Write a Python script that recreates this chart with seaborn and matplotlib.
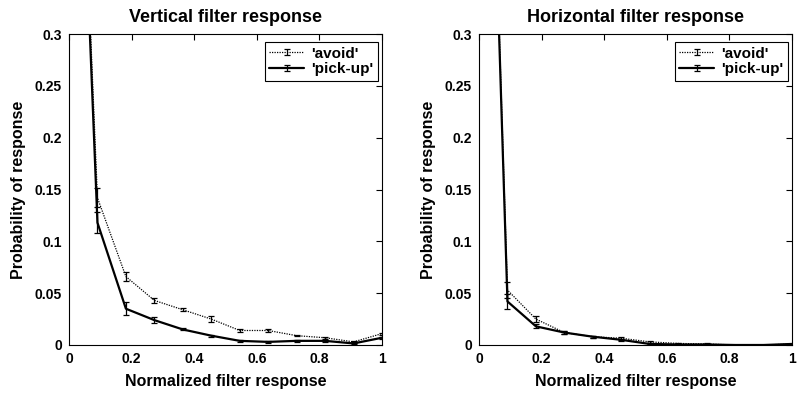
import numpy as np
import pandas as pd
import matplotlib
matplotlib.use("Agg")
import matplotlib.pyplot as plt
import seaborn as sns
from matplotlib.legend_handler import HandlerErrorbar
from matplotlib.container import ErrorbarContainer

# ---- data ----
x_vals = [0.0, 1/11, 2/11, 3/11, 4/11, 5/11, 6/11, 7/11, 8/11, 9/11, 10/11, 1.0]

vert_avoid = [0.80, 0.142, 0.066, 0.043, 0.034, 0.025, 0.014, 0.014, 0.009, 0.007, 0.003, 0.011]
vert_avoid_err = [0.0, 0.009, 0.004, 0.0025, 0.0015, 0.003, 0.001, 0.001, 0.0008, 0.0008, 0.001, 0.001]
vert_pick = [0.80, 0.118, 0.035, 0.024, 0.015, 0.009, 0.004, 0.003, 0.004, 0.004, 0.0015, 0.007]
vert_pick_err = [0.0, 0.010, 0.006, 0.003, 0.001, 0.001, 0.0008, 0.0008, 0.0008, 0.0008, 0.001, 0.001]

horz_avoid = [0.92, 0.053, 0.025, 0.012, 0.008, 0.0065, 0.003, 0.0015, 0.001, 0.0, 0.0, 0.001]
horz_avoid_err = [0.0, 0.008, 0.003, 0.0015, 0.001, 0.0015, 0.001, 0.0005, 0.0005, 0.0003, 0.0003, 0.0003]
horz_pick = [0.92, 0.042, 0.018, 0.012, 0.008, 0.005, 0.001, 0.0005, 0.0005, 0.0, 0.0, 0.001]
horz_pick_err = [0.0, 0.007, 0.002, 0.0015, 0.001, 0.001, 0.0005, 0.0003, 0.0003, 0.0003, 0.0003, 0.0003]

titles = ["Vertical filter response", "Horizontal filter response"]
series_names = ["'avoid'", "'pick-up'"]
xlabel = "Normalized filter response"
ylabel = "Probability of response"
xticks = [0, 0.2, 0.4, 0.6, 0.8, 1.0]
xticklabels = ["0", "0.2", "0.4", "0.6", "0.8", "1"]
yticks = [0, 0.05, 0.1, 0.15, 0.2, 0.25, 0.3]
yticklabels = ["0", "0.05", "0.1", "0.15", "0.2", "0.25", "0.3"]

sns.set_style("white")
plt.rcParams['font.family'] = ['Liberation Sans', 'DejaVu Sans']
plt.rcParams['text.color'] = 'black'
plt.rcParams['axes.labelcolor'] = 'black'
plt.rcParams['xtick.color'] = 'black'
plt.rcParams['ytick.color'] = 'black'

fig = plt.figure(figsize=(8, 4), dpi=100)
positions = [[0.08625, 0.1375, 0.39125, 0.7775], [0.59875, 0.1375, 0.39125, 0.7775]]

panels = [
    (vert_avoid, vert_avoid_err, vert_pick, vert_pick_err),
    (horz_avoid, horz_avoid_err, horz_pick, horz_pick_err),
]

styles = [dict(ls=(0, (1, 1)), lw=0.9), dict(ls='-', lw=1.6)]

for i, (pos, data) in enumerate(zip(positions, panels)):
    ax = fig.add_axes(pos)
    a, ae, p, pe = data
    handles = []
    for (vals, errs), st, name in zip([(a, ae), (p, pe)], styles, series_names):
        df = pd.DataFrame({"x": x_vals, "y": vals})
        sns.lineplot(data=df, x="x", y="y", ax=ax, color="black",
                     linestyle=st['ls'], linewidth=st['lw'], legend=False)
        ax.errorbar(x_vals[1:], vals[1:], yerr=errs[1:], fmt='none',
                    ecolor="black", elinewidth=0.9, capsize=2.5, capthick=0.9)
        # legend proxy (not drawn: NaN data)
        proxy = ax.errorbar([np.nan], [np.nan], yerr=[np.nan], color='black',
                            linestyle=st['ls'], linewidth=st['lw'],
                            elinewidth=0.9, capsize=2, capthick=0.9)
        handles.append(proxy)
    ax.set_xlim(0, 1)
    ax.set_ylim(0, 0.3)
    ax.set_xticks(xticks)
    ax.set_xticklabels(xticklabels)
    ax.set_yticks(yticks)
    ax.set_yticklabels(yticklabels)
    ax.tick_params(direction='in', length=4, width=0.8, top=True, right=True,
                   labelsize=10, colors='black', pad=5)
    for lab in ax.get_xticklabels() + ax.get_yticklabels():
        lab.set_fontweight('bold')
    for sp in ax.spines.values():
        sp.set_color('black')
        sp.set_linewidth(0.8)
    ax.set_title(titles[i], fontsize=13, fontweight='bold', pad=9, color='black')
    ax.set_xlabel(xlabel, fontsize=11.5, fontweight='bold', labelpad=6)
    ax.set_ylabel(ylabel, fontsize=11.5, fontweight='bold', labelpad=6)
    leg = ax.legend(handles, series_names, loc='upper right',
                    bbox_to_anchor=(1 - 4/313, 1 - 8/311),
                    handler_map={ErrorbarContainer: HandlerErrorbar(yerr_size=0.2, numpoints=1)},
                    handlelength=2.3, fancybox=False, framealpha=1,
                    edgecolor='black', borderaxespad=0, handletextpad=0.45,
                    borderpad=0.3, labelspacing=0.12,
                    prop={'weight': 'bold', 'size': 11})
    leg.get_frame().set_linewidth(0.8)

fig.savefig("out.png", dpi=100)
